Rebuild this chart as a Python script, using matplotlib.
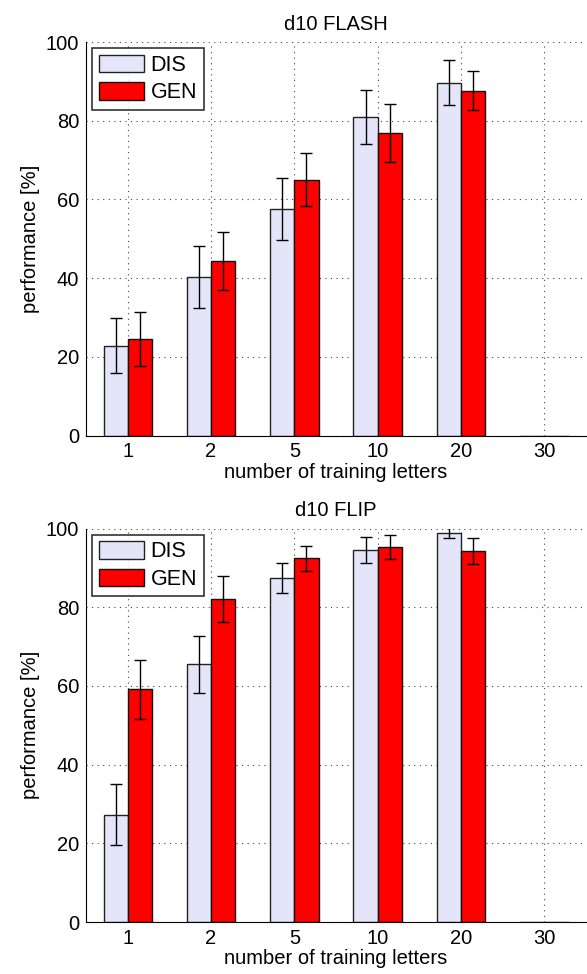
import numpy as np
import matplotlib.pyplot as plt

plt.rcParams['font.family'] = ['Liberation Sans', 'DejaVu Sans']

# dados
letras = ['1', '2', '5', '10', '20', '30']

flash_dis = [22.8, 40.3, 57.5, 80.9, 89.7, 0.0]
flash_dis_err = [7.0, 7.9, 7.9, 6.9, 5.7, 0.0]
flash_gen = [24.5, 44.4, 65.0, 76.8, 87.6, 0.0]
flash_gen_err = [6.8, 7.3, 6.7, 7.4, 5.0, 0.0]

flip_dis = [27.3, 65.5, 87.5, 94.6, 98.9, 0.0]
flip_dis_err = [7.8, 7.3, 3.8, 3.3, 1.4, 0.0]
flip_gen = [59.1, 82.1, 92.4, 95.3, 94.3, 0.0]
flip_gen_err = [7.6, 5.9, 3.2, 3.0, 3.4, 0.0]

cor_dis = '#e5e5fa'
cor_gen = '#ff0000'
w = 0.29
fs = 14.5

fig = plt.figure(figsize=(5.87, 9.74), dpi=100)
ax1 = fig.add_axes([86/587, 1 - 435.5/974, 500/587, 393.5/974])
ax2 = fig.add_axes([86/587, 1 - 922/974, 500/587, 393.5/974])

def painel(ax, dis, dis_err, gen, gen_err, titulo):
    x = np.arange(1, len(letras) + 1)
    ax.set_axisbelow(True)
    ax.grid(True, linestyle=(0, (1, 4)), color='#444444', linewidth=0.8)
    ax.bar(x - w/2, dis, w, color=cor_dis, edgecolor='#222222', linewidth=1.0, label='DIS')
    ax.bar(x + w/2, gen, w, color=cor_gen, edgecolor='#111111', linewidth=1.0, label='GEN')
    e_dis = [v if v > 0 else np.nan for v in dis_err]
    e_gen = [v if v > 0 else np.nan for v in gen_err]
    ax.errorbar(x - w/2, dis, yerr=e_dis, fmt='none', ecolor='black', elinewidth=1.0, capsize=4, capthick=1.0)
    ax.errorbar(x + w/2, gen, yerr=e_gen, fmt='none', ecolor='black', elinewidth=1.0, capsize=4, capthick=1.0)
    ax.set_xlim(0.5, 6.5)
    ax.set_ylim(0, 100)
    ax.set_xticks(x)
    ax.set_xticklabels(letras)
    ax.set_yticks([0, 20, 40, 60, 80, 100])
    ax.spines['top'].set_visible(False)
    ax.spines['right'].set_visible(False)
    ax.tick_params(direction='in', labelsize=fs, length=0, pad=5)
    ax.set_xlabel('number of training letters', fontsize=fs, labelpad=1)
    ax.set_ylabel('performance [%]', fontsize=fs, labelpad=4)
    ax.set_title(titulo, fontsize=fs, pad=9)
    leg = ax.legend(loc='upper left', fontsize=15.5, frameon=True, fancybox=False,
                    edgecolor='black', borderaxespad=0.3, handlelength=2.1,
                    handleheight=0.85, handletextpad=0.3, borderpad=0.3,
                    labelspacing=0.3)
    leg.get_frame().set_linewidth(1.2)

painel(ax1, flash_dis, flash_dis_err, flash_gen, flash_gen_err, 'd10 FLASH')
painel(ax2, flip_dis, flip_dis_err, flip_gen, flip_gen_err, 'd10 FLIP')

fig.savefig('out.png', dpi=100)
